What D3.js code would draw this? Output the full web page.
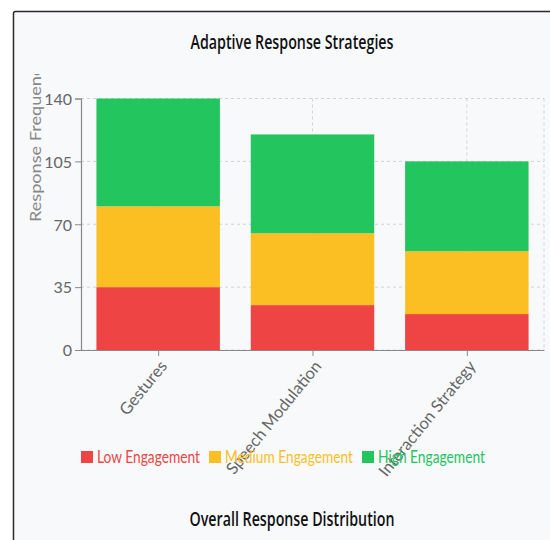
<!DOCTYPE html>
<html><head><meta charset="utf-8">
<script src="https://cdn.jsdelivr.net/npm/d3@7"></script>
<style>
html,body{margin:0;padding:0;background:#fff;overflow:hidden;}
svg{display:block;}
</style></head>
<body>
<svg id="chart" width="550" height="540"></svg>
<script>
const categories = ["Gestures", "Speech Modulation", "Interaction Strategy"];
const seriesNames = ["Low Engagement", "Medium Engagement", "High Engagement"];
const lowValues = [35, 25, 20];
const mediumValues = [45, 40, 35];
const highValues = [60, 55, 50];
const yTicks = [0, 35, 70, 105, 140];
const colors = ["#ef4444", "#fbbf24", "#22c55e"];

const rows = categories.map((c, i) => ({
  category: c, low: lowValues[i], medium: mediumValues[i], high: highValues[i]
}));
const keys = ["low", "medium", "high"];

const svg = d3.select("#chart");
const titleFont = "'Open Sans', 'Noto Sans', sans-serif";
const uiFont = "Lato, 'Noto Sans', sans-serif";

// card
svg.append("rect").attr("x", 13.5).attr("y", 11.5).attr("width", 620).attr("height", 620)
  .attr("rx", 2).attr("fill", "#f8f9fb").attr("stroke", "#2a2a2a").attr("stroke-width", 1.5);

svg.append("text").attr("x", 292).attr("y", 48.5).attr("text-anchor", "middle")
  .attr("font-family", titleFont).attr("font-weight", 600).attr("font-size", 19)
  .attr("textLength", 203).attr("lengthAdjust", "spacingAndGlyphs")
  .attr("fill", "#111").text("Adaptive Response Strategies");

const margin = {left: 81, right: 544, top: 98.5, bottom: 350};
const xc = d3.scalePoint().domain(categories).range([margin.left, margin.right]).padding(0.5);
const y = d3.scaleLinear().domain([0, 140]).range([margin.bottom, margin.top]);

// clip region for svg-part (chart area starts at y=74)
svg.append("clipPath").attr("id", "plotclip").append("rect")
  .attr("x", 0).attr("y", 74).attr("width", 550).attr("height", 470);
const g = svg.append("g").attr("clip-path", "url(#plotclip)");

// grid
const grid = g.append("g").attr("stroke", "#cfd3d8").attr("stroke-dasharray", "3 3").attr("stroke-width", 1);
yTicks.forEach(t => {
  grid.append("line").attr("x1", margin.left).attr("x2", margin.right).attr("y1", y(t)).attr("y2", y(t));
});
categories.forEach(c => {
  grid.append("line").attr("x1", xc(c)).attr("x2", xc(c)).attr("y1", margin.top).attr("y2", margin.bottom);
});
grid.append("line").attr("x1", margin.right).attr("x2", margin.right).attr("y1", margin.top).attr("y2", margin.bottom);

// bars
const stack = d3.stack().keys(keys)(rows);
const bandW = (margin.right - margin.left) / categories.length;
const barW = bandW * 0.8;
stack.forEach((layer, li) => {
  g.append("g").attr("fill", colors[li]).selectAll("rect").data(layer).join("rect")
    .attr("x", d => xc(d.data.category) - barW / 2)
    .attr("width", barW)
    .attr("y", d => y(d[1]))
    .attr("height", d => y(d[0]) - y(d[1]));
});

// axes
const yAxis = d3.axisLeft(y).tickValues(yTicks).tickSize(6).tickPadding(3);
const ya = g.append("g").attr("transform", `translate(${margin.left},0)`).call(yAxis);
ya.select(".domain").attr("stroke", "#888").attr("stroke-width", 1.2);
ya.selectAll(".tick line").attr("stroke", "#888");
ya.selectAll("text").attr("fill", "#666").attr("font-size", 16).attr("font-family", uiFont).attr("dy", "0.36em");

const xAxis = d3.axisBottom(xc).tickSize(6).tickSizeOuter(0).tickPadding(4);
const xa = g.append("g").attr("transform", `translate(0,${margin.bottom})`).call(xAxis);
xa.select(".domain").attr("stroke", "#888").attr("stroke-width", 1.2);
xa.selectAll(".tick line").attr("stroke", "#888");
xa.selectAll("text").attr("fill", "#666").attr("font-size", 16.5).attr("font-family", uiFont)
  .attr("text-anchor", "end").attr("dy", "0.72em")
  .attr("transform", "translate(0,9) rotate(-51)").attr("y", 0).attr("x", 0);

// y label
g.append("text").attr("transform", "translate(41,222) rotate(-90)")
  .attr("text-anchor", "start").attr("font-family", uiFont).attr("font-size", 15)
  .attr("textLength", 164).attr("lengthAdjust", "spacingAndGlyphs")
  .attr("fill", "#888").text("Response Frequency");

// legend
const legendTextWidths = [103, 128, 107];
const leg = svg.append("g");
let lx = 81;
seriesNames.forEach((name, i) => {
  leg.append("rect").attr("x", lx).attr("y", 451).attr("width", 12).attr("height", 12).attr("fill", colors[i]);
  leg.append("text").attr("x", lx + 16).attr("y", 463).attr("font-family", uiFont)
    .attr("font-size", 16.5).attr("fill", colors[i])
    .attr("textLength", legendTextWidths[i]).attr("lengthAdjust", "spacingAndGlyphs").text(name);
  lx += 16 + legendTextWidths[i] + 9;
});

svg.append("text").attr("x", 292).attr("y", 525.5).attr("text-anchor", "middle")
  .attr("font-family", titleFont).attr("font-weight", 600).attr("font-size", 19)
  .attr("textLength", 205).attr("lengthAdjust", "spacingAndGlyphs")
  .attr("fill", "#111").text("Overall Response Distribution");
</script>
</body></html>
